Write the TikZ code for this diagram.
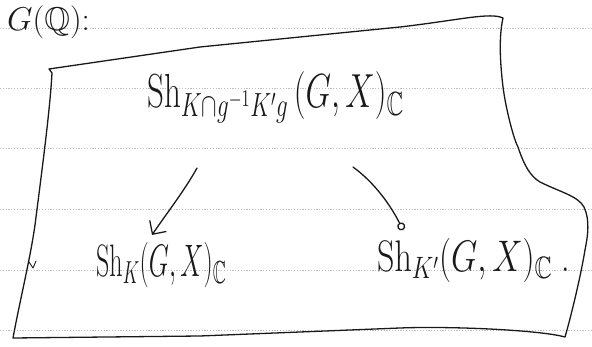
\RequirePackage{fix-cm}
\documentclass[tikz,border=0pt]{standalone}
\usepackage{amssymb}
\usetikzlibrary{arrows.meta}
\begin{document}
\begin{tikzpicture}[x=1pt,y=-1pt,
  rule/.style={draw=black!25,line width=0.6pt,dash pattern=on 1.2pt off 1.6pt},
  ink/.style={draw=black!90,line width=1.3pt,line cap=round,line join=round},
  lbl/.style={inner sep=0pt,anchor=base west,text=black!90},
  arr/.style={ink,-{Straight Barb[length=10pt,width=20pt,line width=1.3pt]}},
  looparr/.style={ink,-{Circle[open,length=8pt,width=8pt,line width=1.3pt]}}]
\useasboundingbox (0,0) rectangle (592,347);
% ruled notebook lines
\foreach \yy in {28,88,148,209,270,330}
  \draw[rule] (0,\yy) -- (592,\yy);
% heading
\node[lbl,font=\fontsize{33}{38}\selectfont] (head) at (7,31) {$G(\mathbb{Q})$:};
% hand-drawn frame
\draw[ink] (49,69) -- (200,47) -- (400,27) .. controls (460,20) and (490,12) .. (503,18)
  .. controls (498,40) and (501,70) .. (503,87)
  .. controls (506,110) and (514,140) .. (518,147)
  .. controls (524,165) and (530,176) .. (540,182)
  .. controls (560,192) and (578,196) .. (584,207)
  .. controls (590,220) and (588,235) .. (585,250)
  .. controls (580,280) and (570,320) .. (565,337)
  .. controls (540,330) and (450,326) .. (400,328)
  -- (200,336) -- (13,338)
  .. controls (20,300) and (30,260) .. (35,225)
  .. controls (42,170) and (50,110) .. (52,73) -- cycle;
\draw[ink,line width=0.9pt] (29,262) -- (33,268) -- (36,261);
% nodes
\node[lbl,font=\fontsize{33}{36}\selectfont] (top) at (147,108)
  {\scalebox{1}[1.45]{$\mathrm{Sh}_{K\cap g^{-1}K'g}\,(G,X)_{\mathbb{C}}$}};
\node[lbl,font=\fontsize{26}{30}\selectfont] (bl) at (96,277)
  {\scalebox{1}[1.75]{$\mathrm{Sh}_K(G,X)_{\mathbb{C}}$}};
\node[lbl,font=\fontsize{34}{38}\selectfont] (br) at (377,272)
  {\scalebox{1}[1.3]{$\mathrm{Sh}_{K'}(G,X)_{\mathbb{C}}$\;.}};
% connectors
\draw[arr] ([shift={(50,60)}]top.base west) .. controls +(-12,22) and +(12,-18) .. ([shift={(56,-42)}]bl.base west);
\draw[looparr] ([shift={(206,59)}]top.base west) .. controls +(22,16) and +(-12,-24) .. ([shift={(26,-42)}]br.base west);
\end{tikzpicture}
\end{document}
